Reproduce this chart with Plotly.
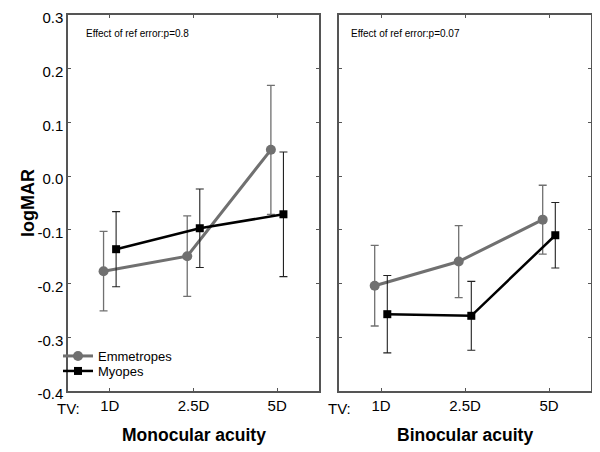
import plotly.graph_objects as go

categories = ["1D", "2.5D", "5D"]
cat_pos = [1, 2, 3]

# Monocular acuity
mono_emm = [-0.177, -0.149, 0.049]
mono_emm_err = [0.074, 0.075, 0.120]
mono_myo = [-0.136, -0.097, -0.071]
mono_myo_err = [0.070, 0.073, 0.116]

# Binocular acuity
bino_emm = [-0.204, -0.159, -0.081]
bino_emm_err = [0.075, 0.067, 0.064]
bino_myo = [-0.257, -0.260, -0.110]
bino_myo_err = [0.072, 0.064, 0.061]

y_ticks = [0.3, 0.2, 0.1, 0.0, -0.1, -0.2, -0.3, -0.4]
y_tick_labels = ["0.3", "0.2", "0.1", "0.0", "-0.1", "-0.2", "-0.3", "-0.4"]

GRAY = "#707070"
BLACK = "#000000"
FONT = "Liberation Sans, Arial, sans-serif"

W, H = 600, 452
OFF = 8  # page body margin compensation


def px(x):
    return (x - OFF) / W


def py(y):
    return 1 - (y - OFF) / H


left_dom = [px(68), px(319)]
right_dom = [px(339), px(591)]
y_dom = [py(391), py(15)]

emm_off = -0.075
myo_off = 0.075

fig = go.Figure()


def add_pair(xa, ya, emm, emm_err, myo, myo_err, show):
    fig.add_trace(go.Scatter(
        x=[p + emm_off for p in cat_pos], y=emm,
        error_y=dict(type="data", array=emm_err, color=GRAY, thickness=1.3, width=4),
        mode="lines+markers", name="Emmetropes",
        line=dict(color=GRAY, width=3),
        marker=dict(symbol="circle", size=10, color=GRAY),
        xaxis=xa, yaxis=ya, showlegend=show, legend="legend"))
    fig.add_trace(go.Scatter(
        x=[p + myo_off for p in cat_pos], y=myo,
        error_y=dict(type="data", array=myo_err, color="#222222", thickness=1.1, width=4),
        mode="lines+markers", name="Myopes",
        line=dict(color=BLACK, width=2.5),
        marker=dict(symbol="square", size=8, color=BLACK),
        xaxis=xa, yaxis=ya, showlegend=show, legend="legend2"))


add_pair("x", "y", mono_emm, mono_emm_err, mono_myo, mono_myo_err, True)
add_pair("x2", "y2", bino_emm, bino_emm_err, bino_myo, bino_myo_err, False)

axis_common = dict(showline=True, linecolor="#555555", linewidth=1.5, mirror="ticks",
                   showgrid=False, zeroline=False, ticks="inside", ticklen=3,
                   automargin=False, ticklabeloverflow="allow",
                   tickcolor="#555555", tickfont=dict(family=FONT, size=15, color="#000"))

leg_common = dict(xanchor="left", yanchor="middle", bgcolor="rgba(0,0,0,0)",
                  font=dict(family=FONT, size=13, color="#000"), itemwidth=30,
                  borderwidth=0)

fig.update_layout(
    width=W, height=H,
    margin=dict(l=0, r=0, t=0, b=0, autoexpand=False),
    paper_bgcolor="white", plot_bgcolor="white",
    font=dict(family=FONT, color="#000"),
    xaxis=dict(domain=left_dom, range=[0.5, 3.5], tickvals=cat_pos, ticktext=categories,
               anchor="y", **axis_common),
    xaxis2=dict(domain=right_dom, range=[0.5, 3.5], tickvals=cat_pos, ticktext=categories,
                anchor="y2", **axis_common),
    yaxis=dict(domain=y_dom, range=[-0.4, 0.3], tickvals=y_ticks, ticktext=y_tick_labels,
               anchor="x", ticklabelshift=3, **axis_common),
    yaxis2=dict(domain=y_dom, range=[-0.4, 0.3], tickvals=y_ticks, showticklabels=False,
                anchor="x2", **axis_common),
    legend=dict(x=px(58), y=py(356), **leg_common),
    legend2=dict(x=px(58), y=py(371), **leg_common),
    showlegend=True,
)

annots = [
    dict(x=px(84), y=py(33), text="Effect of ref error:p=0.8", size=10, xanchor="left"),
    dict(x=px(349), y=py(33), text="Effect of ref error:p=0.07", size=10, xanchor="left"),
    dict(x=px(68), y=py(408), text="TV:", size=15, xanchor="center"),
    dict(x=px(339), y=py(408), text="TV:", size=15, xanchor="center"),
    dict(x=px(194), y=py(435), text="<b>Monocular acuity</b>", size=17.5, xanchor="center"),
    dict(x=px(465), y=py(435), text="<b>Binocular acuity</b>", size=17.5, xanchor="center"),
]
for a in annots:
    fig.add_annotation(x=a["x"], y=a["y"], xref="paper", yref="paper", text=a["text"],
                       showarrow=False, xanchor=a["xanchor"], yanchor="middle",
                       font=dict(family=FONT, size=a["size"], color="#000"))
fig.add_annotation(x=px(28), y=py(203), xref="paper", yref="paper", text="<b>logMAR</b>",
                   showarrow=False, textangle=-90, xanchor="center", yanchor="middle",
                   font=dict(family=FONT, size=18, color="#000"))

fig.write_html("out.html")
